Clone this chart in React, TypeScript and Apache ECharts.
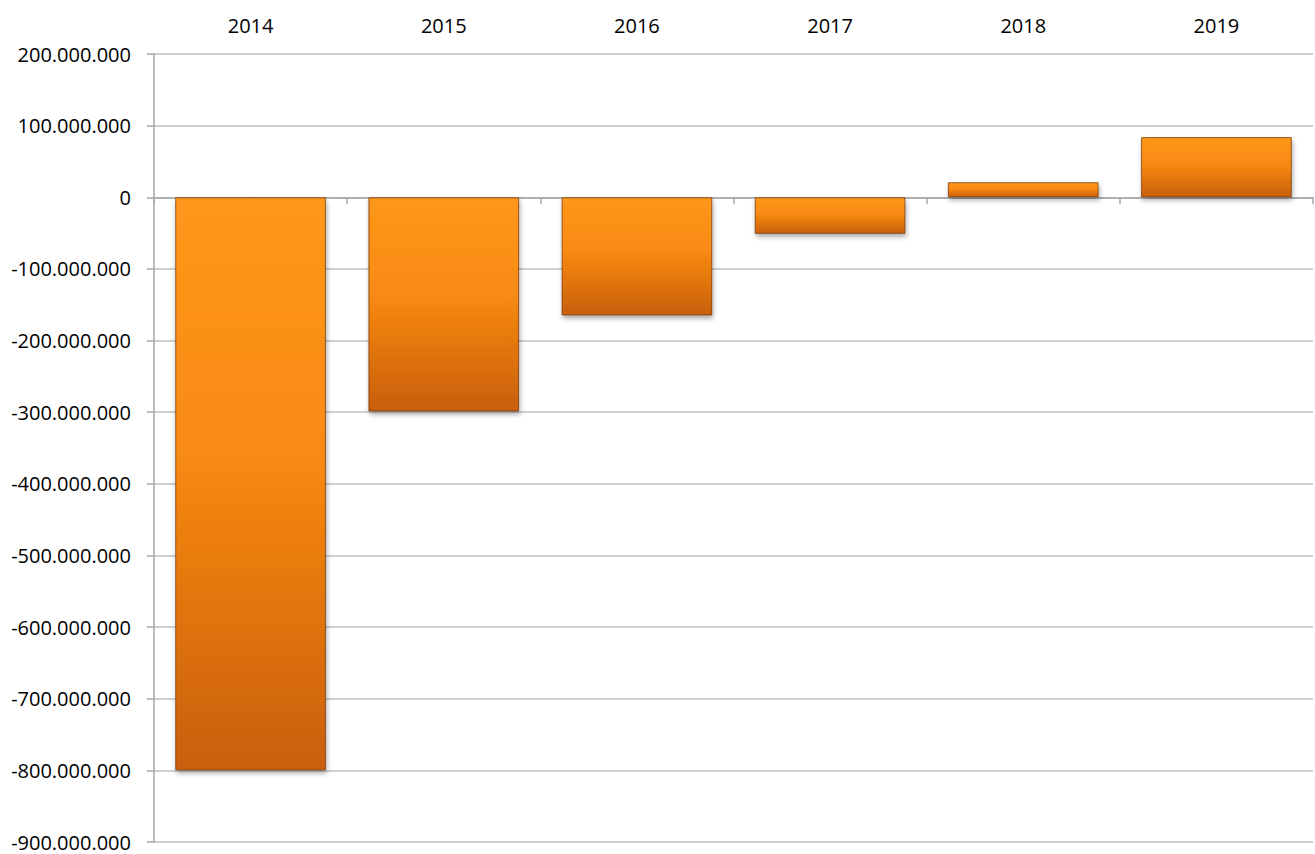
import React, { useEffect, useRef } from "react";
import * as echarts from "echarts";

const years = ["2014", "2015", "2016", "2017", "2018", "2019"];
const values = [-800000000, -299000000, -165000000, -51000000, 21000000, 84000000];
const yMin = -900000000;
const yMax = 200000000;
const yStep = 100000000;

const fmt = (v: number) => {
  const s = Math.abs(v).toString().replace(/\B(?=(\d{3})+(?!\d))/g, ".");
  return (v < 0 ? "-" : "") + s;
};

export default function App() {
  const ref = useRef<HTMLDivElement>(null);
  useEffect(() => {
    if (!ref.current) return;
    const chart = echarts.init(ref.current, null, { renderer: "svg" });
    const font = "'Open Sans', 'Noto Sans', sans-serif";
    chart.setOption({
      animation: false,
      backgroundColor: "#ffffff",
      grid: { left: 154, right: 2, top: 54, bottom: 12, containLabel: false },
      xAxis: [
        {
          type: "category",
          data: years,
          position: "top",
          axisLine: { show: false, onZero: false },
          axisTick: { show: false },
          axisLabel: { color: "#000", fontSize: 20, lineHeight: 18, fontFamily: font, margin: 20 },
          splitLine: { show: false },
        },
        {
          type: "category",
          data: years,
          position: "bottom",
          axisLine: { show: true, onZero: true, lineStyle: { color: "#A6A6A6", width: 1.5 } },
          axisTick: { show: true, length: 7, lineStyle: { color: "#A6A6A6", width: 1.5 } },
          axisLabel: { show: false },
          splitLine: { show: false },
        },
      ],
      yAxis: {
        type: "value",
        min: yMin,
        max: yMax,
        interval: yStep,
        axisLine: { show: true, lineStyle: { color: "#A6A6A6", width: 1.5 } },
        axisTick: { show: true, length: 7, lineStyle: { color: "#A6A6A6", width: 1.5 } },
        splitLine: { show: true, lineStyle: { color: "#BFBFBF", width: 1.5 } },
        axisLabel: {
          color: "#000",
          fontSize: 20,
          lineHeight: 18,
          fontFamily: font,
          margin: 23,
          formatter: (v: number) => fmt(v),
        },
      },
      series: [
        {
          type: "bar",
          xAxisIndex: 0,
          data: values,
          barCategoryGap: "22%",
          itemStyle: {
            color: new echarts.graphic.LinearGradient(0, 0, 0, 1, [
              { offset: 0, color: "#FF971B" },
              { offset: 0.45, color: "#F88A12" },
              { offset: 1, color: "#C95F0C" },
            ]),
            borderColor: "rgba(110,50,0,0.7)",
            borderWidth: 1,
            shadowColor: "rgba(0,0,0,0.35)",
            shadowBlur: 5,
            shadowOffsetX: 1,
            shadowOffsetY: 3,
          },
        },
      ],
    });
    return () => chart.dispose();
  }, []);
  return (
    <div
      ref={ref}
      style={{ position: "absolute", left: 0, top: 0, width: 1315, height: 854 }}
    />
  );
}
